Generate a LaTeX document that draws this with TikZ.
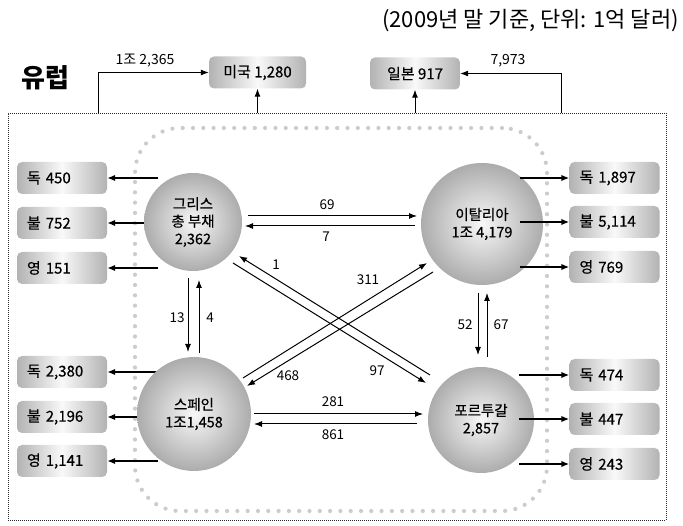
\documentclass[tikz,border=0pt]{standalone}
\usepackage{fontspec}
\setmainfont{Noto Sans CJK KR}
\newfontfamily\heavy{Noto Sans CJK KR}[FakeBold=0.5]
\usetikzlibrary{arrows.meta,calc}
\pgfdeclarelayer{bg}
\pgfsetlayers{bg,main}
\begin{document}
\begin{tikzpicture}[x=1pt,y=-1pt,
  box/.style={rounded corners=5pt, minimum height=32pt, inner sep=0pt,
    left color=gray!60, right color=gray!60, middle color=gray!5,
    font=\heavy\fontsize{15}{15}\selectfont},
  lbox/.style={box, text width=70pt, align=left, inner xsep=10pt},
  ball/.style={circle, inner sep=0pt, inner color=gray!6, outer color=gray!65,
    align=center, font=\heavy\fontsize{14.5}{17.5}\selectfont},
  arrB/.style={-{Latex[length=8pt,width=6.5pt]}, line width=1.7pt},
  arr/.style={-{Latex[length=8pt,width=6pt]}, line width=1pt},
  lab/.style={font=\fontsize{13.5}{13.5}\selectfont, inner sep=0pt},
  toplab/.style={font=\fontsize{14}{14}\selectfont, inner sep=0pt}
]
\useasboundingbox (0,0) rectangle (683,526);

% frames
\begin{pgfonlayer}{bg}
\node[draw=black!85, dash pattern=on 1pt off 1pt, line width=0.7pt,
  minimum width=658pt, minimum height=407pt, inner sep=0pt] (frame) at (337,316.5) {};
\node[draw=gray!40, line width=4.2pt, line cap=round, dash pattern=on 0pt off 10.3pt,
  rounded corners=45pt, minimum width=412pt, minimum height=383pt, inner sep=0pt] (zone) at (341,319.5) {};
\end{pgfonlayer}

% titles
\node[anchor=east, font=\fontsize{22}{22}\selectfont, inner sep=0pt] (title) at (679,21) {(2009년 말 기준, 단위: 1억 달러)};
\node[font=\fontsize{26}{26}\bfseries\selectfont, inner sep=0pt] (eulab) at (45,78) {유럽};

% top boxes
\node[box, minimum width=97pt] (us) at (257.5,72.5) {미국 1,280};
\node[box, minimum width=90pt] (jp) at (415,73.5) {일본 917};

% countries
\node[ball, minimum size=98pt] (gr) at (193,222) {그리스\\총 부채\\2,362};
\node[ball, minimum size=122pt] (it) at (482,224) {이탈리아\\1조 4,179};
\node[ball, minimum size=114pt] (sp) at (194,414) {스페인\\1조1,458};
\node[ball, minimum size=106pt] (pt) at (481,420) {포르투갈\\2,857};

% side boxes
\node[lbox] (g1) at (62,178) {독 450};
\node[lbox] (g2) at (62,223) {불 752};
\node[lbox] (g3) at (62,268) {영 151};
\node[lbox] (s1) at (62,372) {독 2,380};
\node[lbox] (s2) at (62,417) {불 2,196};
\node[lbox] (s3) at (62,461) {영 1,141};
\node[lbox] (i1) at (614.5,178) {독 1,897};
\node[lbox] (i2) at (614.5,222) {불 5,114};
\node[lbox] (i3) at (614.5,267) {영 769};
\node[lbox] (p1) at (614.5,375) {독 474};
\node[lbox] (p2) at (614.5,419) {불 447};
\node[lbox] (p3) at (614.5,464) {영 243};

% left arrows (behind circles)
\begin{pgfonlayer}{bg}
\foreach \b in {g1,g2,g3}{\draw[arrB] ([xshift=-35pt]gr.center |- \b.east) -- (\b.east);}
\foreach \b in {s1,s2,s3}{\draw[arrB] ([xshift=-36pt]sp.center |- \b.east) -- (\b.east);}
\end{pgfonlayer}
% right arrows
\foreach \b in {i1,i2,i3}{\draw[arrB] ([xshift=38pt]it.center |- \b.west) -- (\b.west);}
\foreach \b in {p1,p2,p3}{\draw[arrB] ([xshift=38pt]pt.center |- \b.west) -- (\b.west);}

% top connectors
\draw[arr] ([xshift=91pt]frame.north west) |- (us.west);
\draw[arr] ([xshift=-105pt]frame.north east) |- (jp.east);
\draw[arr] (frame.north -| us.south) -- (us.south);
\draw[arr] (frame.north -| jp.south) -- (jp.south);
\node[toplab] (l12365) at (145,61) {1조 2,365};
\node[toplab] (l7973) at (508,61) {7,973};

% inter-country arrows
\draw[arr] ($(gr.center)+(55,-6)$) -- ($(it.center)+(-65,-8)$);
\draw[arr] ($(it.center)+(-67,2)$) -- ($(gr.center)+(52,4)$);
\draw[arr] ($(gr.center)+(-5,56)$) -- ($(sp.center)+(-6,-62)$);
\draw[arr] ($(sp.center)+(5,-61)$) -- ($(gr.center)+(6,58)$);
\draw[arr] ($(it.center)+(-4,69)$) -- ($(pt.center)+(-3,-65)$);
\draw[arr] ($(pt.center)+(6,-63)$) -- ($(it.center)+(5,69)$);
\draw[arr] ($(sp.center)+(60,0)$) -- ($(pt.center)+(-58,-6)$);
\draw[arr] ($(pt.center)+(-64,4)$) -- ($(sp.center)+(60,10)$);
\draw[arr] ($(pt.center)+(-51,-45)$) -- ($(gr.center)+(46,34)$);
\draw[arr] ($(gr.center)+(40,41)$) -- ($(pt.center)+(-55,-37)$);
\draw[arr] ($(sp.center)+(49,-36)$) -- ($(it.center)+(-55,39)$);
\draw[arr] ($(it.center)+(-49,48)$) -- ($(sp.center)+(53,-28)$);

% labels
\node[lab] (l69) at (327,205) {69};
\node[lab] (l7) at (326,237) {7};
\node[lab] (l13) at (177,318) {13};
\node[lab] (l4) at (210,318) {4};
\node[lab] (l52) at (465,325) {52};
\node[lab] (l67) at (501,325) {67};
\node[lab] (l281) at (333,402) {281};
\node[lab] (l861) at (333,435) {861};
\node[lab] (l1) at (276,265) {1};
\node[lab] (l97) at (377,371) {97};
\node[lab] (l311) at (368,280) {311};
\node[lab] (l468) at (288,376) {468};
\end{tikzpicture}
\end{document}
